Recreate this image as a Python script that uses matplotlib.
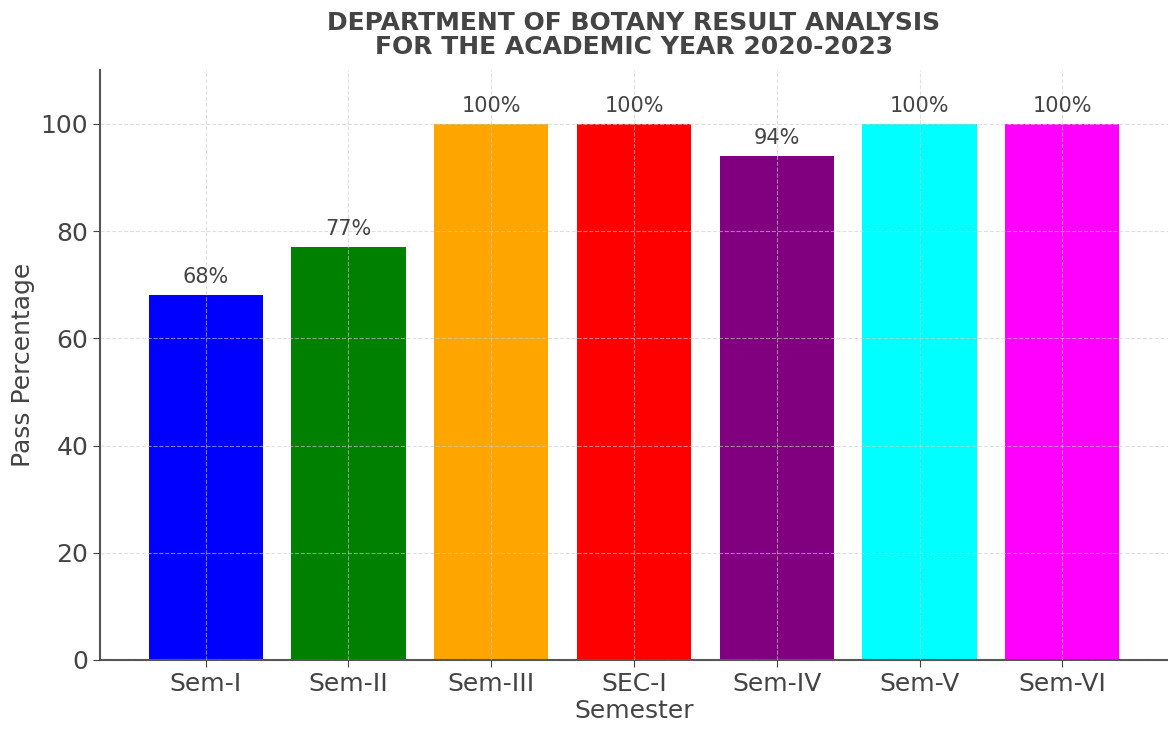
import matplotlib
matplotlib.use("Agg")
import matplotlib.pyplot as plt

semesters = ["Sem-I", "Sem-II", "Sem-III", "SEC-I", "Sem-IV", "Sem-V", "Sem-VI"]
pass_pct = [68, 77, 100, 100, 94, 100, 100]
colors = ["blue", "green", "orange", "red", "purple", "cyan", "magenta"]

txt = "#444444"
plt.rcParams["font.family"] = "DejaVu Sans"

fig = plt.figure(figsize=(11.68, 7.29), dpi=100)
ax = fig.add_axes([0.0856, 0.0947, 0.9144, 0.809])

bars = ax.bar(semesters, pass_pct, color=colors, width=0.8)
for b, v in zip(bars, pass_pct):
    ax.text(b.get_x() + b.get_width() / 2, v + 1.5, f"{v}%", ha="center", va="bottom",
            fontsize=15, color=txt)

ax.set_ylim(0, 110)
ax.set_xlim(-0.74, 6.74)
ax.set_yticks([0, 20, 40, 60, 80, 100])
ax.grid(True, linestyle="--", color="#cccccc", linewidth=0.8, alpha=0.6)
ax.set_axisbelow(False)
ax.spines["top"].set_visible(False)
ax.spines["right"].set_visible(False)
for s in ["left", "bottom"]:
    ax.spines[s].set_color("#555555")
    ax.spines[s].set_linewidth(1.5)
ax.tick_params(labelsize=18, colors=txt, length=5)
ax.set_xlabel("Semester", fontsize=18, color=txt, labelpad=2)
ax.set_ylabel("Pass Percentage", fontsize=18, color=txt)
ax.set_title("DEPARTMENT OF BOTANY RESULT ANALYSIS\nFOR THE ACADEMIC YEAR 2020-2023",
             fontsize=18, fontweight="bold", color=txt, linespacing=1.0, pad=12)

fig.savefig("out.png", dpi=100)
